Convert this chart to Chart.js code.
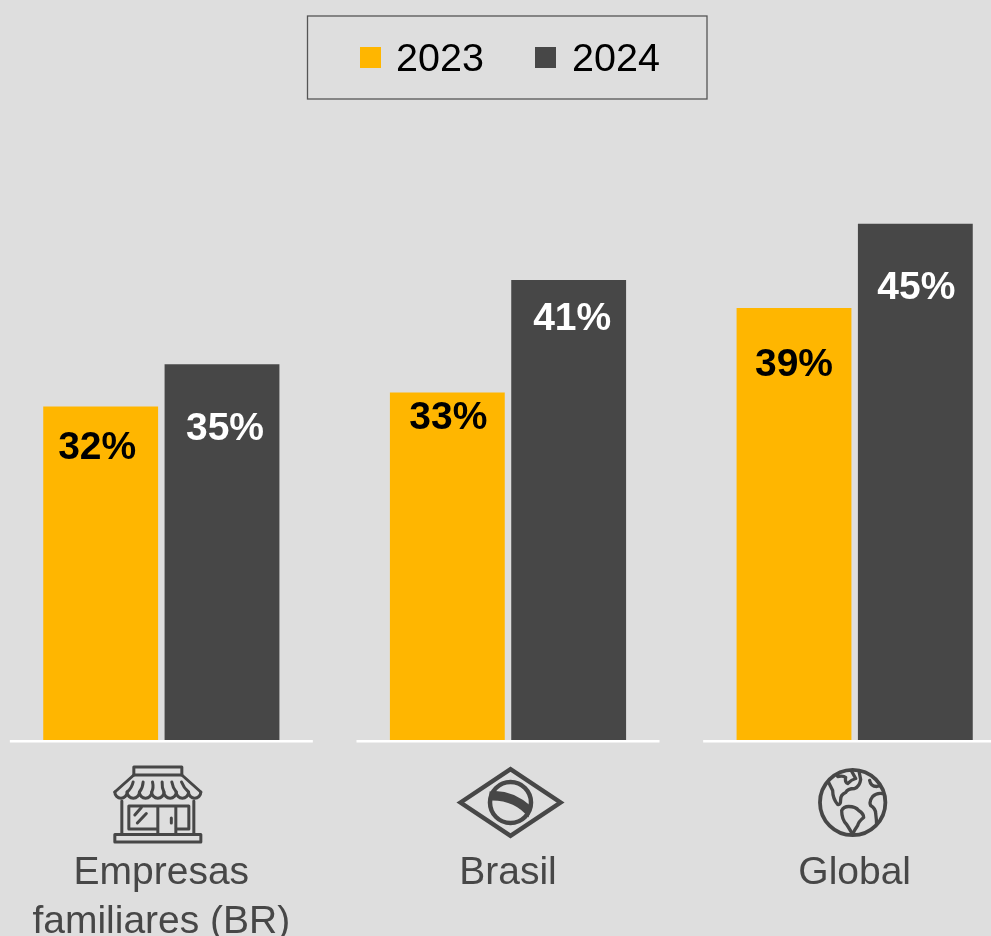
<!DOCTYPE html>
<html lang="pt">
<head>
<meta charset="utf-8">
<title>Empresas familiares</title>
<script src="https://cdn.jsdelivr.net/npm/chart.js@4"></script>
<style>
  html, body { margin: 0; width: 991px; height: 936px; overflow: hidden; background: #dedede; }
  #chart { position: absolute; left: -12px; top: 0; }
</style>
</head>
<body>
<canvas id="chart" width="1040" height="943"></canvas>
<script>
const categories = [['Empresas', 'familiares (BR)'], 'Brasil', 'Global'];
const seriesNames = ['2023', '2024'];
const values2023 = [32, 33, 39];
const values2024 = [35, 41, 45];

const YELLOW = '#ffb600';
const DARK = '#474747';
const FONT = '"Liberation Sans", Arial, sans-serif';

// Value label placement, relative to the top centre of each bar
const labelShift2023 = [[-3.5, 42], [1, 26], [0, 57]];
const labelShift2024 = [[3, 65], [3.5, 39], [1, 65]];
const labelColors = ['#000000', '#ffffff'];

// Legend swatch and text positions on the canvas
const legendSwatchX = [372, 547];
const legendTextX = [408, 584];

// Icon centre relative to the category tick, and how far it sits below the baseline
const iconShiftX = [-3.5, 2.5, -2];
const iconShiftY = [65, 62.5, 62.5];

function scallops(count, left, y, width) {
  let d = `M${left},${y}`;
  for (let i = 0; i < count; i++) {
    d += ` a${width / 2},${width / 2} 0 0 0 ${width},0`;
  }
  return d;
}

const shopPaths = [
  'M-24,-30 V-38 H24 V-30',
  'M-43,-13 L-24,-30 H24 L43,-13',
  scallops(7, -43, -13, 86 / 7),
  'M-24.7,-23 Q-26,-17 -30.7,-13 M-14.7,-23 Q-15,-17 -18.4,-13 M-5.3,-23 Q-4,-17 -6.1,-13 M4.3,-23 Q4,-17 6.1,-13 M14,-23 Q15,-17 18.4,-13 M23.7,-23 Q26,-17 30.7,-13',
  'M-36,-4 V29 M36,-4 V29',
  'M0,24 H-29 V1 H31 V24 H18 M0,1 V29 M18,1 V29',
  'M-23,10 L-16.5,2.5 M-20.5,18 L-11.5,8.5',
  'M13.5,13 V18',
  'M-43,29.5 H43 V37 H-43 Z',
];

const globeContinents = [
  'M-16,-29 L-15,-26 Q-9,-27 -7,-25 Q-8,-20 -5,-19 Q-1,-23 3,-24 L-2,-33',
  'M6,-33 L8,-23 Q7,-16 2,-14 Q-5,-14 -7,-10 Q-12,-8 -12,-3 Q-12,3 -15,2 Q-20,-4 -20,-12 L-24,-20',
  'M-11,8 Q-9,4 -4,4 Q3,4 6,8 Q11,11 11,15 Q6,19 5,23 Q2,27 0,32 Q-4,25 -6,22 Q-11,17 -11,8 Z',
  'M33,-8 Q25,-11 20,-6 Q16,-1 18,3 Q23,6 23,11 Q24,17 24,25',
  'M17,-22 Q18,-16 24,-16 Q29,-18 32,-13',
];

function drawShop(ctx) {
  ctx.lineWidth = 3;
  shopPaths.forEach(d => ctx.stroke(new Path2D(d)));
}

function drawBrazil(ctx) {
  ctx.lineWidth = 4.5;
  ctx.lineJoin = 'miter';
  ctx.stroke(new Path2D('M-50,0 L0,-33.3 L50,0 L0,33.3 Z'));
  ctx.beginPath();
  ctx.arc(0, 0, 20.5, 0, Math.PI * 2);
  ctx.stroke();
  ctx.fill(new Path2D('M-21,-11 Q0,-14 21,4 L18,15 Q4,-3 -21,-2 Z'));
}

function drawGlobe(ctx) {
  ctx.lineWidth = 3.8;
  ctx.beginPath();
  ctx.arc(0, 0, 32.7, 0, Math.PI * 2);
  ctx.stroke();
  ctx.clip();
  ctx.lineWidth = 3.3;
  globeContinents.forEach(d => ctx.stroke(new Path2D(d)));
}

const iconDrawers = [drawShop, drawBrazil, drawGlobe];

// White baseline under each group of bars
const baselinePlugin = {
  id: 'groupBaseline',
  afterDatasetsDraw(chart) {
    const { ctx, scales: { x, y } } = chart;
    const base = y.getPixelForValue(y.min);
    ctx.save();
    ctx.fillStyle = '#ffffff';
    categories.forEach((c, i) => {
      ctx.fillRect(x.getPixelForTick(i) - 151.5, base, 303, 2.5);
    });
    ctx.restore();
  },
};

// Percentage labels inside the bars
const valueLabelPlugin = {
  id: 'valueLabels',
  afterDatasetsDraw(chart) {
    const { ctx } = chart;
    const shifts = [labelShift2023, labelShift2024];
    ctx.save();
    ctx.font = `bold 39px ${FONT}`;
    ctx.textAlign = 'center';
    ctx.textBaseline = 'middle';
    chart.data.datasets.forEach((ds, d) => {
      ctx.fillStyle = labelColors[d];
      chart.getDatasetMeta(d).data.forEach((bar, i) => {
        const [dx, dy] = shifts[d][i];
        ctx.fillText(`${ds.data[i]}%`, bar.x + dx, bar.y + dy);
      });
    });
    ctx.restore();
  },
};

// Line icons between the baseline and the category names
const iconPlugin = {
  id: 'categoryIcons',
  afterDraw(chart) {
    const { ctx, scales: { x, y } } = chart;
    const base = y.getPixelForValue(y.min);
    iconDrawers.forEach((draw, i) => {
      ctx.save();
      ctx.translate(x.getPixelForTick(i) + iconShiftX[i], base + iconShiftY[i]);
      ctx.strokeStyle = DARK;
      ctx.fillStyle = DARK;
      ctx.lineJoin = 'round';
      ctx.lineCap = 'round';
      draw(ctx);
      ctx.restore();
    });
  },
};

// Framed legend at the top, built from the dataset names and colours
const framedLegendPlugin = {
  id: 'framedLegend',
  afterDraw(chart) {
    const { ctx } = chart;
    ctx.save();
    ctx.strokeStyle = '#555555';
    ctx.lineWidth = 1.3;
    ctx.strokeRect(319.5, 16, 399.5, 83);
    ctx.font = `39.5px ${FONT}`;
    ctx.textBaseline = 'middle';
    chart.data.datasets.forEach((ds, d) => {
      ctx.fillStyle = ds.backgroundColor;
      ctx.fillRect(legendSwatchX[d], 47, 21, 21);
      ctx.fillStyle = '#000000';
      ctx.fillText(ds.label, legendTextX[d], 60);
    });
    ctx.restore();
  },
};

new Chart(document.getElementById('chart'), {
  type: 'bar',
  data: {
    labels: categories,
    datasets: [
      { label: seriesNames[0], data: values2023, backgroundColor: YELLOW },
      { label: seriesNames[1], data: values2024, backgroundColor: DARK },
    ],
  },
  options: {
    responsive: false,
    animation: false,
    devicePixelRatio: 1,
    categoryPercentage: 0.7,
    barPercentage: 0.9465,
    layout: { padding: { top: 135 } },
    plugins: {
      tooltip: { enabled: false },
      legend: { display: false },
    },
    scales: {
      x: {
        grid: { display: false },
        border: { display: false },
        ticks: {
          color: DARK,
          font: { family: FONT, size: 39, lineHeight: 1.256 },
          padding: 101,
          maxRotation: 0,
          autoSkip: false,
        },
        // the two-line label would otherwise narrow the plot and inflate the axis
        afterFit(scale) {
          scale.height = 203;
          scale.paddingLeft = 0;
          scale.paddingRight = 0;
        },
      },
      y: {
        display: false,
        min: 8.3,
        max: 51.3,
      },
    },
  },
  plugins: [baselinePlugin, valueLabelPlugin, iconPlugin, framedLegendPlugin],
});
</script>
</body>
</html>
